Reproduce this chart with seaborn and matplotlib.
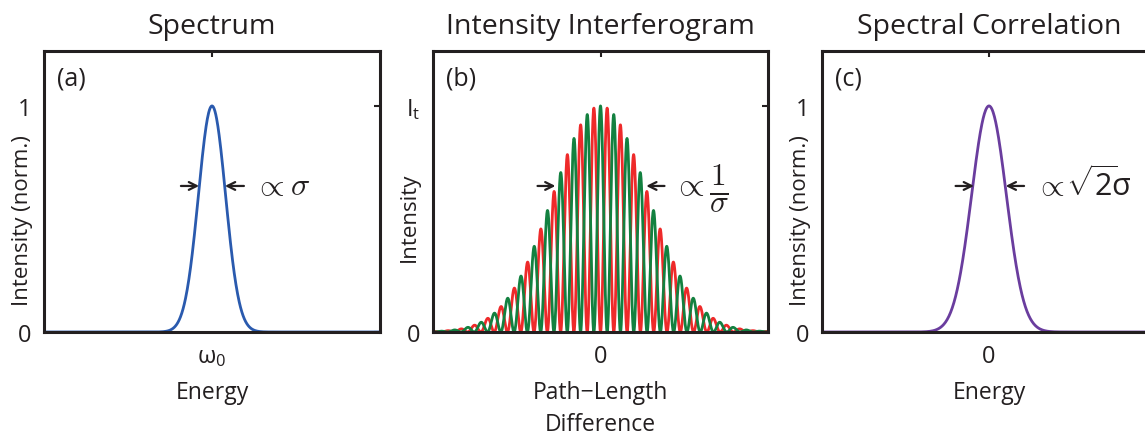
import numpy as np
import pandas as pd
import matplotlib
matplotlib.use("Agg")
import matplotlib.pyplot as plt
import seaborn as sns

# ---------------- data ----------------
titles = ["Spectrum", "Intensity Interferogram", "Spectral Correlation"]
panel_letters = ["(a)", "(b)", "(c)"]
ylabels = ["Intensity (norm.)", "Intensity", "Intensity (norm.)"]
xlabels = ["Energy", "Path\u2212Length\nDifference", "Energy"]
xtick_labels = [r"$\mathrm{\omega}_{0}$", "0", "0"]
ytick_labels = [["0", "1"], ["0", r"$\mathrm{I}_{\mathrm{t}}$"], ["0", "1"]]
ytick_values = [0.0, 1.0]

# Gaussian line-shape parameters (x axis spans -1 .. 1 in each panel)
spectrum_center = 0.0
spectrum_peak = 1.0
spectrum_fwhm = 0.19
correlation_center = 0.0
correlation_peak = 1.0
correlation_fwhm = 0.245
interf_center = 0.0
interf_peak = 1.0
interf_env_fwhm = 0.67
interf_fringe_period = 0.0794
interf_series = ["red", "green"]

arrow_level = 0.646
arrow_left = [(-0.185, -0.077), (-0.376, -0.269), (-0.20, -0.09)]
arrow_right = [(0.19, 0.077), (0.382, 0.273), (0.21, 0.10)]

# ---------------- curves ----------------
def gauss(x, c, a, fwhm):
    s = fwhm / (2 * np.sqrt(2 * np.log(2)))
    return a * np.exp(-(x - c) ** 2 / (2 * s ** 2))

x_small = np.linspace(-1, 1, 801)
x_fine = np.linspace(-1, 1, 4001)
df_a = pd.DataFrame({"x": x_small, "y": gauss(x_small, spectrum_center, spectrum_peak, spectrum_fwhm)})
df_c = pd.DataFrame({"x": x_small, "y": gauss(x_small, correlation_center, correlation_peak, correlation_fwhm)})
env = gauss(x_fine, interf_center, interf_peak, interf_env_fwhm)
phase = 2 * np.pi * (x_fine - interf_center) / interf_fringe_period
df_b = pd.concat([
    pd.DataFrame({"x": x_fine, "y": env * (1 - np.cos(phase)) / 2, "s": interf_series[0]}),
    pd.DataFrame({"x": x_fine, "y": env * (1 + np.cos(phase)) / 2, "s": interf_series[1]}),
])

# ---------------- style ----------------
sns.set_theme(style="white")
plt.rcParams["font.family"] = ["Open Sans", "DejaVu Sans"]
plt.rcParams["mathtext.fontset"] = "custom"
plt.rcParams["mathtext.rm"] = "Open Sans"
plt.rcParams["mathtext.it"] = "Open Sans:italic"
plt.rcParams["mathtext.bf"] = "Open Sans:bold"
ink = "#231f20"
plt.rcParams["text.color"] = ink

W, H = 1145, 435
fig = plt.figure(figsize=(W / 100, H / 100), dpi=100)

ax_px = [(44, 336), (433, 335), (822, 334)]
top_px, bot_px = 52, 333
axes = []
for (l, w) in ax_px:
    ax = fig.add_axes([l / W, (H - bot_px) / H, w / W, (bot_px - top_px) / H])
    axes.append(ax)

blue = "#2a5aae"
purple = "#6a3d9e"
red = "#ee2a2a"
green = "#138140"

sns.lineplot(data=df_a, x="x", y="y", ax=axes[0], color=blue, lw=2.0)
sns.lineplot(data=df_b, x="x", y="y", hue="s", palette={"red": red, "green": green},
             ax=axes[1], lw=2.0, legend=False, sort=False, estimator=None)
sns.lineplot(data=df_c, x="x", y="y", ax=axes[2], color=purple, lw=2.0)

ylabel_x = [-0.033, -0.039, -0.033]
ylabel_y = [0.40, 0.41, 0.40]
ylabel_fs = [16, 16, 16]
for i, ax in enumerate(axes):
    ax.set_xlim(-1, 1)
    ax.set_ylim(0, 1.243)
    ax.set_xticks([0.0])
    ax.set_xticklabels([xtick_labels[i]])
    ax.set_yticks(ytick_values)
    ax.set_yticklabels(ytick_labels[i])
    ax.tick_params(direction="in", length=4, width=1.5, top=True, right=True,
                   labeltop=False, labelright=False, labelsize=17, pad=9, colors=ink)
    for sp in ax.spines.values():
        sp.set_visible(True)
        sp.set_linewidth(2.2)
        sp.set_color(ink)
    ax.set_title(titles[i], fontsize=20.5, pad=13, color=ink)
    ax.set_xlabel(xlabels[i], fontsize=16.5, linespacing=1.4, color=ink)
    ax.xaxis.set_label_coords(0.5, -0.172)
    ax.set_ylabel(ylabels[i], fontsize=ylabel_fs[i], color=ink)
    ax.yaxis.set_label_coords(ylabel_x[i], ylabel_y[i])
    ax.text(0.04, 0.905, panel_letters[i], transform=ax.transAxes, fontsize=18,
            va="center", ha="left", color=ink)
    # width arrows
    for (tail, head) in (arrow_left[i], arrow_right[i]):
        ax.annotate("", xy=(head, arrow_level), xytext=(tail, arrow_level),
                    arrowprops=dict(arrowstyle="->", lw=1.6, color=ink,
                                    shrinkA=0, shrinkB=0, mutation_scale=14))

# width annotations
t = axes[0].text(0.25, arrow_level, r"$\propto\sigma$", fontsize=23, va="center", ha="left")
t.set_math_fontfamily("cm")
t = axes[1].text(0.43, arrow_level, r"$\propto$", fontsize=24, va="center", ha="left")
t.set_math_fontfamily("cm")
t = axes[1].text(0.645, 0.635, r"$\frac{1}{\sigma}$", fontsize=32, va="center", ha="left")
t.set_math_fontfamily("cm")
t = axes[2].text(0.275, arrow_level, r"$\propto$", fontsize=22, va="center", ha="left")
t.set_math_fontfamily("cm")
t = axes[2].text(0.46, arrow_level + 0.01, r"$\sqrt{2}\!\mathrm{\sigma}$", fontsize=22,
                 va="center", ha="left")

fig.savefig("out.png", dpi=100)
